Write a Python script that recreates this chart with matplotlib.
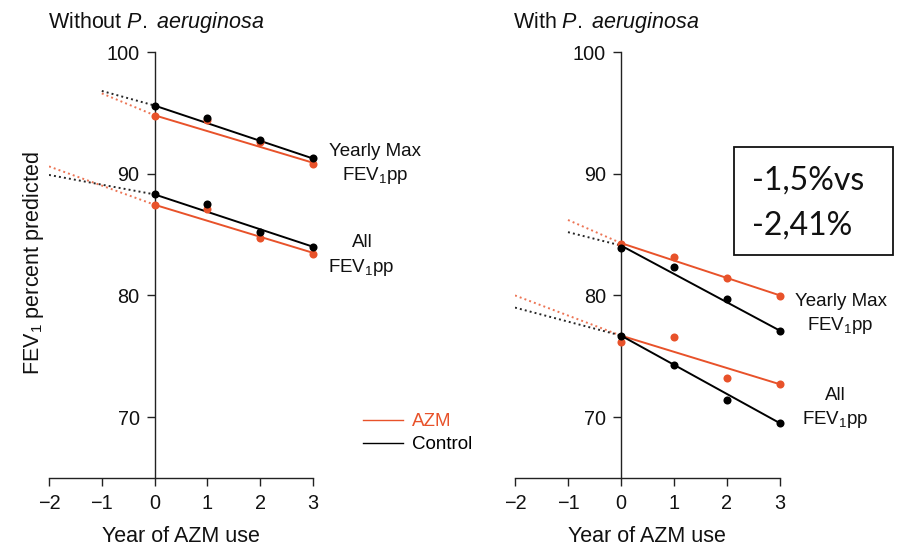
import matplotlib
matplotlib.use("Agg")
import matplotlib.pyplot as plt
from matplotlib.lines import Line2D
from matplotlib.patches import Rectangle

plt.rcParams['font.family'] = ['Liberation Sans', 'DejaVu Sans']
plt.rcParams['mathtext.fontset'] = 'custom'
plt.rcParams['mathtext.rm'] = 'Liberation Sans'
plt.rcParams['mathtext.it'] = 'Liberation Sans:italic'

# ---------------- data ----------------
years = [0, 1, 2, 3]
x_ticks = [-2, -1, 0, 1, 2, 3]
x_tick_labels = ['\u22122', '\u22121', '0', '1', '2', '3']
y_ticks = [70, 80, 90, 100]

# Without P. aeruginosa (observed yearly means)
noPA_max_azm = [94.75, 94.4, 92.57, 90.8]
noPA_max_ctrl = [95.6, 94.57, 92.79, 91.26]
noPA_all_azm = [87.4, 87.13, 84.75, 83.44]
noPA_all_ctrl = [88.34, 87.5, 85.2, 83.96]
# fitted post-AZM line (value at year 0, value at year 3)
noPA_fit_max_azm = [94.8, 90.9]
noPA_fit_max_ctrl = [95.6, 91.25]
noPA_fit_all_azm = [87.45, 83.5]
noPA_fit_all_ctrl = [88.3, 84.0]
# pre-AZM trend (start year, value at start, value at year 0)
noPA_pre_max_azm = [-1, 96.6, 94.8]
noPA_pre_max_ctrl = [-1, 96.8, 95.6]
noPA_pre_all_azm = [-2, 90.6, 87.45]
noPA_pre_all_ctrl = [-2, 89.9, 88.3]

# With P. aeruginosa
PA_max_azm = [84.26, 83.17, 81.45, 79.97]
PA_max_ctrl = [83.9, 82.3, 79.7, 77.07]
PA_all_azm = [76.2, 76.56, 73.25, 72.7]
PA_all_ctrl = [76.67, 74.26, 71.4, 69.5]
PA_fit_max_azm = [84.3, 80.0]
PA_fit_max_ctrl = [84.1, 77.1]
PA_fit_all_azm = [76.7, 72.7]
PA_fit_all_ctrl = [76.7, 69.5]
PA_pre_max_azm = [-1, 86.2, 84.3]
PA_pre_max_ctrl = [-1, 85.2, 84.1]
PA_pre_all_azm = [-2, 80.0, 76.7]
PA_pre_all_ctrl = [-2, 79.0, 76.7]

ORANGE = '#E8522A'
BLACK = '#000000'

W, H = 900, 548
fig = plt.figure(figsize=(W / 100, H / 100), dpi=100)


def fx(px):
    return px / W


def fy(py):
    return 1 - py / H


def setup(ax):
    ax.set_xlim(-2, 3)
    ax.set_ylim(65, 100)
    for s in ['top', 'right']:
        ax.spines[s].set_visible(False)
    ax.spines['left'].set_position(('data', 0))
    ax.spines['left'].set_bounds(65, 100)
    ax.spines['bottom'].set_bounds(-2, 3)
    for s in ['left', 'bottom']:
        ax.spines[s].set_linewidth(1.0)
        ax.spines[s].set_color('#222222')
    ax.set_xticks(x_ticks)
    ax.set_xticklabels(x_tick_labels)
    ax.set_yticks(y_ticks)
    ax.tick_params(direction='out', length=5.8, width=1.0, labelsize=14.3,
                   color='#222222', labelcolor='#111111')
    ax.tick_params(axis='x', pad=6)
    ax.tick_params(axis='y', pad=5)
    ax.patch.set_alpha(0)


def draw_group(ax, pts_azm, pts_ctrl, fit_azm, fit_ctrl, pre_azm, pre_ctrl):
    # pre-trend dotted
    ax.plot([pre_azm[0], 0], [pre_azm[1], pre_azm[2]], linestyle=(0, (1, 1.6)),
            color=ORANGE, lw=1.4, alpha=0.8, zorder=2)
    ax.plot([pre_ctrl[0], 0], [pre_ctrl[1], pre_ctrl[2]], linestyle=(0, (1, 1.6)),
            color=BLACK, lw=1.4, alpha=0.85, zorder=2)
    # fitted lines
    ax.plot([0, 3], fit_azm, color=ORANGE, lw=1.4, zorder=3)
    ax.plot([0, 3], fit_ctrl, color=BLACK, lw=1.4, zorder=4)
    # points
    ax.plot(years, pts_azm, 'o', color=ORANGE, ms=5.8, mec='none', zorder=5, clip_on=False)
    ax.plot(years, pts_ctrl, 'o', color=BLACK, ms=5.8, mec='none', zorder=6, clip_on=False)


axL = fig.add_axes([fx(49), fy(478), (313 - 49) / W, (478 - 52) / H])
axR = fig.add_axes([fx(515), fy(478), (780 - 515) / W, (478 - 52) / H])
setup(axL)
setup(axR)

draw_group(axL, noPA_max_azm, noPA_max_ctrl, noPA_fit_max_azm, noPA_fit_max_ctrl,
           noPA_pre_max_azm, noPA_pre_max_ctrl)
draw_group(axL, noPA_all_azm, noPA_all_ctrl, noPA_fit_all_azm, noPA_fit_all_ctrl,
           noPA_pre_all_azm, noPA_pre_all_ctrl)
draw_group(axR, PA_max_azm, PA_max_ctrl, PA_fit_max_azm, PA_fit_max_ctrl,
           PA_pre_max_azm, PA_pre_max_ctrl)
draw_group(axR, PA_all_azm, PA_all_ctrl, PA_fit_all_azm, PA_fit_all_ctrl,
           PA_pre_all_azm, PA_pre_all_ctrl)

# titles
fig.text(fx(48), fy(28), r'Without $\mathit{P.}$ $\mathit{aeruginosa}$', fontsize=15.5,
         ha='left', va='baseline', color='#111111')
fig.text(fx(513), fy(28), r'With $\mathit{P.}$ $\mathit{aeruginosa}$', fontsize=15.5,
         ha='left', va='baseline', color='#111111')

# x labels
fig.text(fx(181), fy(542), 'Year of AZM use', fontsize=15.5, ha='center',
         va='baseline', color='#111111')
fig.text(fx(647), fy(542), 'Year of AZM use', fontsize=15.5, ha='center',
         va='baseline', color='#111111')

# y label
fig.text(fx(34), fy(263), r'FEV$_\mathregular{1}$ percent predicted', fontsize=15.5,
         rotation=90, ha='center', va='center', color='#111111')

# series labels
lab_kw = dict(fontsize=13.5, ha='center', va='center', color='#111111')
fpp = r'FEV$_\mathregular{1}$pp'
fig.text(fx(375), fy(151), 'Yearly Max', **lab_kw)
fig.text(fx(375), fy(175), fpp, **lab_kw)
fig.text(fx(362), fy(243), 'All', **lab_kw)
fig.text(fx(361), fy(267), fpp, **lab_kw)
fig.text(fx(841), fy(302), 'Yearly Max', **lab_kw)
fig.text(fx(840), fy(325), fpp, **lab_kw)
fig.text(fx(835), fy(395), 'All', **lab_kw)
fig.text(fx(835), fy(420), fpp, **lab_kw)

# legend
handles = [Line2D([], [], color=ORANGE, lw=1.0, label='AZM'),
           Line2D([], [], color=BLACK, lw=1.0, label='Control')]
fig.legend(handles=handles, loc='upper left',
           bbox_to_anchor=(fx(363), fy(413)), bbox_transform=fig.transFigure,
           frameon=False, fontsize=13.5, handlelength=2.13, handletextpad=0.48,
           borderpad=0, borderaxespad=0, labelspacing=0.33, labelcolor='linecolor')

# annotation box
fig.patches.append(Rectangle((fx(734), fy(255)), (893 - 734) / W, (255 - 147) / H,
                             transform=fig.transFigure, fill=False,
                             edgecolor='#111111', lw=1.3))
fig.text(fx(752), fy(190), '-1,5%vs', fontsize=23, family=['Lato', 'DejaVu Sans'],
         ha='left', va='baseline', color='#111111')
fig.text(fx(752), fy(235), '-2,41%', fontsize=23, family=['Lato', 'DejaVu Sans'],
         ha='left', va='baseline', color='#111111')

fig.savefig('out.png', dpi=100)
